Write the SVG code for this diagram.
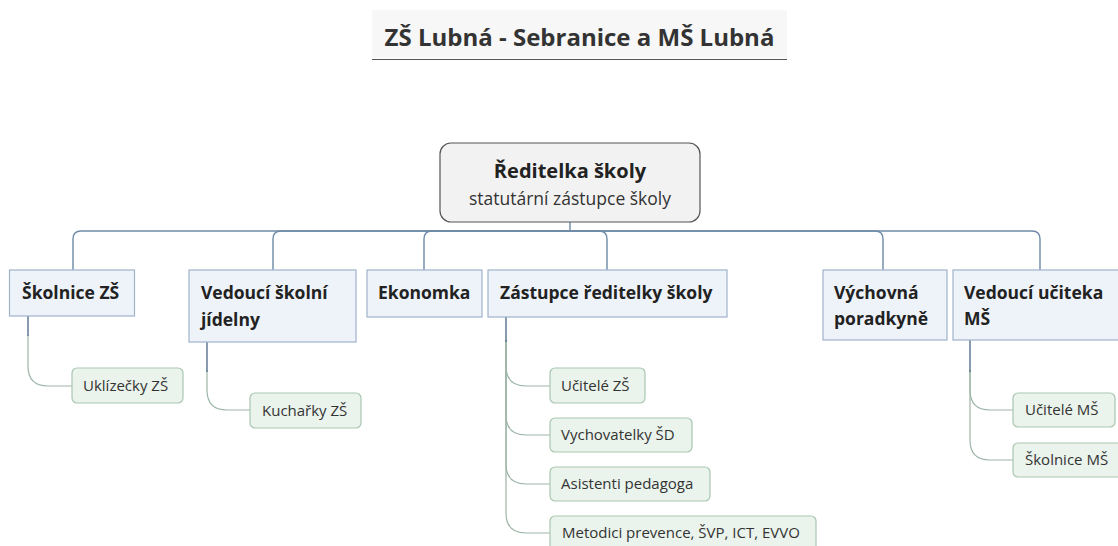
<svg xmlns="http://www.w3.org/2000/svg" width="1118" height="546" viewBox="0 0 1118 546">
<style>
text{font-family:"Open Sans","Noto Sans","DejaVu Sans",sans-serif}
.title{font-size:24px;font-weight:700;fill:#333}
.root{fill:#f2f2f2;stroke:#555;stroke-width:1.2}
.rt1{font-size:20px;font-weight:700;fill:#222}
.rt2{font-size:17.5px;fill:#333}
.l1{fill:#eef3f9;stroke:#9fb3cb;stroke-width:1.2}
.t1{font-size:17.5px;font-weight:700;fill:#222}
.l2{fill:#eaf3ec;stroke:#a9c7b1;stroke-width:1.2}
.t2{font-size:15px;fill:#333}
.c1{fill:none;stroke:#6e8aa7;stroke-width:1.4}
.c2{fill:none;stroke:#9db5a7;stroke-width:1.2}
.c2d{fill:none;stroke:#56708a;stroke-width:1.4}
</style>
<rect width="1118" height="546" fill="#fff"/>
<g id="title">
<rect x="372" y="10" width="415" height="48" fill="#f7f7f7"/>
<line x1="372" y1="59.5" x2="787" y2="59.5" stroke="#555" stroke-width="1.2"/>
<text class="title" x="579.5" y="46" text-anchor="middle">ZŠ Lubná - Sebranice a MŠ Lubná</text>
</g>
<g id="connectors">
<path class="c1" d="M570,222 V231"/>
<path class="c1" d="M570,231 H81 Q73,231 73,239 V270"/>
<path class="c1" d="M570,231 H281 Q273,231 273,239 V270"/>
<path class="c1" d="M570,231 H432 Q424,231 424,239 V270"/>
<path class="c1" d="M570,231 H599 Q607,231 607,239 V270"/>
<path class="c1" d="M570,231 H875 Q883,231 883,239 V270"/>
<path class="c1" d="M570,231 H1032 Q1040,231 1040,239 V270"/>
<path class="c2" d="M28,335 V366 Q28,386 48,386 H72"/>
<path class="c2d" d="M28,316 V336"/>
<path class="c2" d="M207,370 V390 Q207,410 227,410 H250"/>
<path class="c2d" d="M207,342 V372"/>
<path class="c2" d="M506,340 V366 Q506,386 526,386 H550"/>
<path class="c2" d="M506,340 V415 Q506,435 526,435 H550"/>
<path class="c2" d="M506,340 V464 Q506,484 526,484 H550"/>
<path class="c2" d="M506,340 V513 Q506,533 526,533 H550"/>
<path class="c2d" d="M506,317 V342"/>
<path class="c2" d="M970,370 V390 Q970,410 990,410 H1013"/>
<path class="c2" d="M970,370 V440 Q970,460 990,460 H1013"/>
<path class="c2d" d="M970,340 V372"/>
</g>
<g id="root">
<rect class="root" x="440" y="143" width="260" height="79" rx="11"/>
<text class="rt1" x="570" y="178" text-anchor="middle">Ředitelka školy</text>
<text class="rt2" x="570" y="205" text-anchor="middle">statutární zástupce školy</text>
</g>
<g id="skolnice-zs">
<rect class="l1" x="9.5" y="270" width="125" height="46"/>
<text class="t1" x="22" y="299">Školnice ZŠ</text>
</g>
<g id="vedouci-jidelny">
<rect class="l1" x="189" y="270" width="167" height="72"/>
<text class="t1" x="201" y="299">Vedoucí školní</text>
<text class="t1" x="201" y="326">jídelny</text>
</g>
<g id="ekonomka">
<rect class="l1" x="367" y="270" width="115" height="47"/>
<text class="t1" x="378" y="299">Ekonomka</text>
</g>
<g id="zastupce">
<rect class="l1" x="488" y="270" width="239" height="47"/>
<text class="t1" x="500" y="299">Zástupce ředitelky školy</text>
</g>
<g id="vychovna">
<rect class="l1" x="823" y="270" width="124" height="70"/>
<text class="t1" x="834" y="299">Výchovná</text>
<text class="t1" x="834" y="325">poradkyně</text>
</g>
<g id="vedouci-ms">
<rect class="l1" x="953" y="270" width="175" height="70"/>
<text class="t1" x="964" y="299">Vedoucí učiteka</text>
<text class="t1" x="964" y="325">MŠ</text>
</g>
<g id="uklizecky">
<rect class="l2" x="72" y="368" width="111" height="35" rx="5"/>
<text class="t2" x="83" y="391">Uklízečky ZŠ</text>
</g>
<g id="kucharky">
<rect class="l2" x="250" y="393" width="111" height="35" rx="5"/>
<text class="t2" x="262" y="416">Kuchařky ZŠ</text>
</g>
<g id="ucitele-zs">
<rect class="l2" x="550" y="368" width="95" height="35" rx="5"/>
<text class="t2" x="561" y="391">Učitelé ZŠ</text>
</g>
<g id="vychovatelky">
<rect class="l2" x="550" y="418" width="142" height="34" rx="5"/>
<text class="t2" x="561" y="440">Vychovatelky ŠD</text>
</g>
<g id="asistenti">
<rect class="l2" x="550" y="467" width="160" height="34" rx="5"/>
<text class="t2" x="561" y="489">Asistenti pedagoga</text>
</g>
<g id="metodici">
<rect class="l2" x="550" y="516" width="266" height="35" rx="5"/>
<text class="t2" x="562" y="538">Metodici prevence, ŠVP, ICT, EVVO</text>
</g>
<g id="ucitele-ms">
<rect class="l2" x="1013" y="393" width="102" height="34" rx="5"/>
<text class="t2" x="1025" y="415">Učitelé MŠ</text>
</g>
<g id="skolnice-ms">
<rect class="l2" x="1013" y="443" width="110" height="34" rx="5"/>
<text class="t2" x="1025" y="465">Školnice MŠ</text>
</g>
</svg>
